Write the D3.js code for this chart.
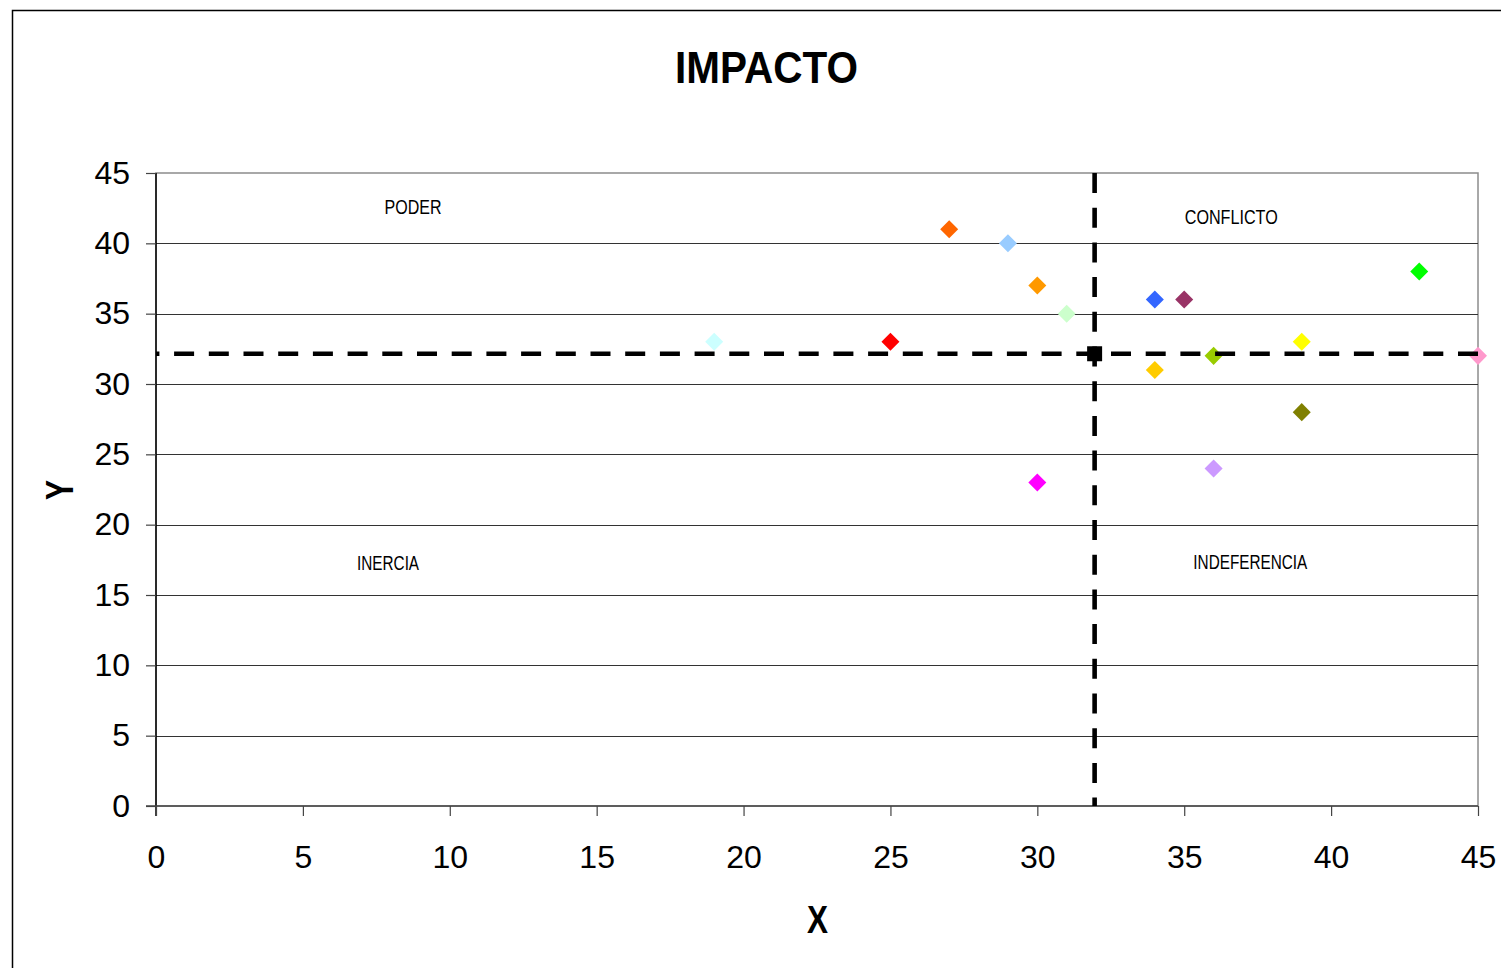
<!DOCTYPE html>
<html>
<head>
<meta charset="utf-8">
<script src="https://cdn.jsdelivr.net/npm/d3@7"></script>
<style>
  html, body { margin: 0; padding: 0; background: #fff; }
  svg text { font-family: Arial, "Liberation Sans", sans-serif; fill: #000; }
</style>
</head>
<body>
<svg id="chart" width="1501" height="968"></svg>
<script>
// data
const xValues = [19, 25, 27, 29, 30, 31, 30, 34, 35, 34, 36, 39, 39, 36, 43, 45];
const yValues = [33, 33, 41, 40, 37, 35, 23, 36, 36, 31, 32, 33, 28, 24, 38, 32];
const palette = ["#CCFFFF", "#FF0000", "#FF6600", "#99CCFF", "#FF9900", "#CCFFCC",
                 "#FF00FF", "#3366FF", "#993366", "#FFCC00", "#99CC00", "#FFFF00",
                 "#808000", "#CC99FF", "#00FF00", "#FF99CC"];
const centerPoint = [31.95, 32.15];
const tickValues = [0, 5, 10, 15, 20, 25, 30, 35, 40, 45];
const quadrantNames = ["PODER", "CONFLICTO", "INERCIA", "INDEFERENCIA"];

const svg = d3.select("#chart");
const W = 1501, H = 968;
const margin = {left: 156, top: 173, right: 23, bottom: 162};

const x = d3.scaleLinear().domain([0, 45]).range([margin.left, W - margin.right]);
const y = d3.scaleLinear().domain([0, 45]).range([H - margin.bottom, margin.top]);

// outer chart frame (only left and top visible)
svg.append("path")
    .attr("d", `M12.5,${H} V10.5 H${W}`)
    .attr("fill", "none").attr("stroke", "#000").attr("stroke-width", 1.5);

// plot area border
svg.append("rect")
    .attr("x", x(0)).attr("y", y(45))
    .attr("width", x(45) - x(0)).attr("height", y(0) - y(45))
    .attr("fill", "none").attr("stroke", "#8c8c8c").attr("stroke-width", 1.5);

// horizontal gridlines
svg.append("g").selectAll("line")
    .data(tickValues.filter(d => d > 0 && d < 45))
    .join("line")
    .attr("x1", x(0)).attr("x2", x(45))
    .attr("y1", d => Math.round(y(d)) + 0.5).attr("y2", d => Math.round(y(d)) + 0.5)
    .attr("stroke", "#333").attr("stroke-width", 1);

// axes
const yAxis = svg.append("g")
    .attr("transform", `translate(${x(0)},0)`)
    .call(d3.axisLeft(y).tickValues(tickValues).tickSize(10).tickSizeOuter(0).tickPadding(16));
const xAxis = svg.append("g")
    .attr("transform", `translate(0,${y(0)})`)
    .call(d3.axisBottom(x).tickValues(tickValues).tickSize(10).tickSizeOuter(0).tickPadding(29));

[yAxis, xAxis].forEach(g => {
    g.select(".domain").attr("stroke", "#000").attr("stroke-width", 1.5);
    g.selectAll(".tick line").attr("stroke", "#444").attr("stroke-width", 1.2);
    g.selectAll(".tick text").attr("font-size", 32).attr("font-family", "Arial, 'Liberation Sans', sans-serif");
});
yAxis.select(".domain").attr("d", `M0,${y(45)}V${y(0) + 10}`);
xAxis.select(".domain").attr("stroke", "#444").attr("d", `M-10,0H${x(45) - x(0) + 0}`)
    .attr("transform", `translate(${x(0)},0)`);

// points
svg.append("g").selectAll("path")
    .data(xValues.map((v, i) => ({x: v, y: yValues[i], c: palette[i]})))
    .join("path")
    .attr("transform", d => `translate(${x(d.x)},${y(d.y)})`)
    .attr("d", d3.symbol(d3.symbolDiamond2, 207))
    .attr("fill", d => d.c);

// dashed cross lines through the center point
svg.append("path")
    .attr("d", `M${x(45)},${y(centerPoint[1])}H${x(0)}`)
    .attr("stroke", "#000").attr("stroke-width", 4.6)
    .attr("stroke-dasharray", "20,14.7").attr("fill", "none");
svg.append("path")
    .attr("d", `M${x(centerPoint[0])},${y(45)}V${y(0)}`)
    .attr("stroke", "#000").attr("stroke-width", 4.6)
    .attr("stroke-dasharray", "20,14.7").attr("fill", "none");

svg.append("path")
    .attr("transform", `translate(${x(centerPoint[0])},${y(centerPoint[1])})`)
    .attr("d", d3.symbol(d3.symbolSquare, 225))
    .attr("fill", "#000");

// quadrant labels
const quadrantPos = [[8.75, 42.1, 57], [36.6, 41.4, 93], [7.9, 16.8, 62], [37.25, 16.85, 114]];
svg.append("g").selectAll("text")
    .data(quadrantNames)
    .join("text")
    .attr("x", (d, i) => x(quadrantPos[i][0]))
    .attr("y", (d, i) => y(quadrantPos[i][1]))
    .attr("text-anchor", "middle")
    .attr("font-size", 19.5)
    .attr("textLength", (d, i) => quadrantPos[i][2])
    .attr("lengthAdjust", "spacingAndGlyphs")
    .text(d => d);

// titles
svg.append("text")
    .attr("x", 766.5).attr("y", 83)
    .attr("text-anchor", "middle")
    .attr("font-size", 44).attr("font-weight", "bold")
    .attr("textLength", 183).attr("lengthAdjust", "spacingAndGlyphs")
    .text("IMPACTO");

svg.append("text")
    .attr("x", 817.5).attr("y", 933)
    .attr("text-anchor", "middle")
    .attr("font-size", 39).attr("font-weight", "bold")
    .attr("textLength", 21).attr("lengthAdjust", "spacingAndGlyphs")
    .text("X");

svg.append("text")
    .attr("transform", "translate(73,490) rotate(-90)")
    .attr("text-anchor", "middle")
    .attr("font-size", 39).attr("font-weight", "bold")
    .attr("textLength", 20).attr("lengthAdjust", "spacingAndGlyphs")
    .text("Y");
</script>
</body>
</html>
